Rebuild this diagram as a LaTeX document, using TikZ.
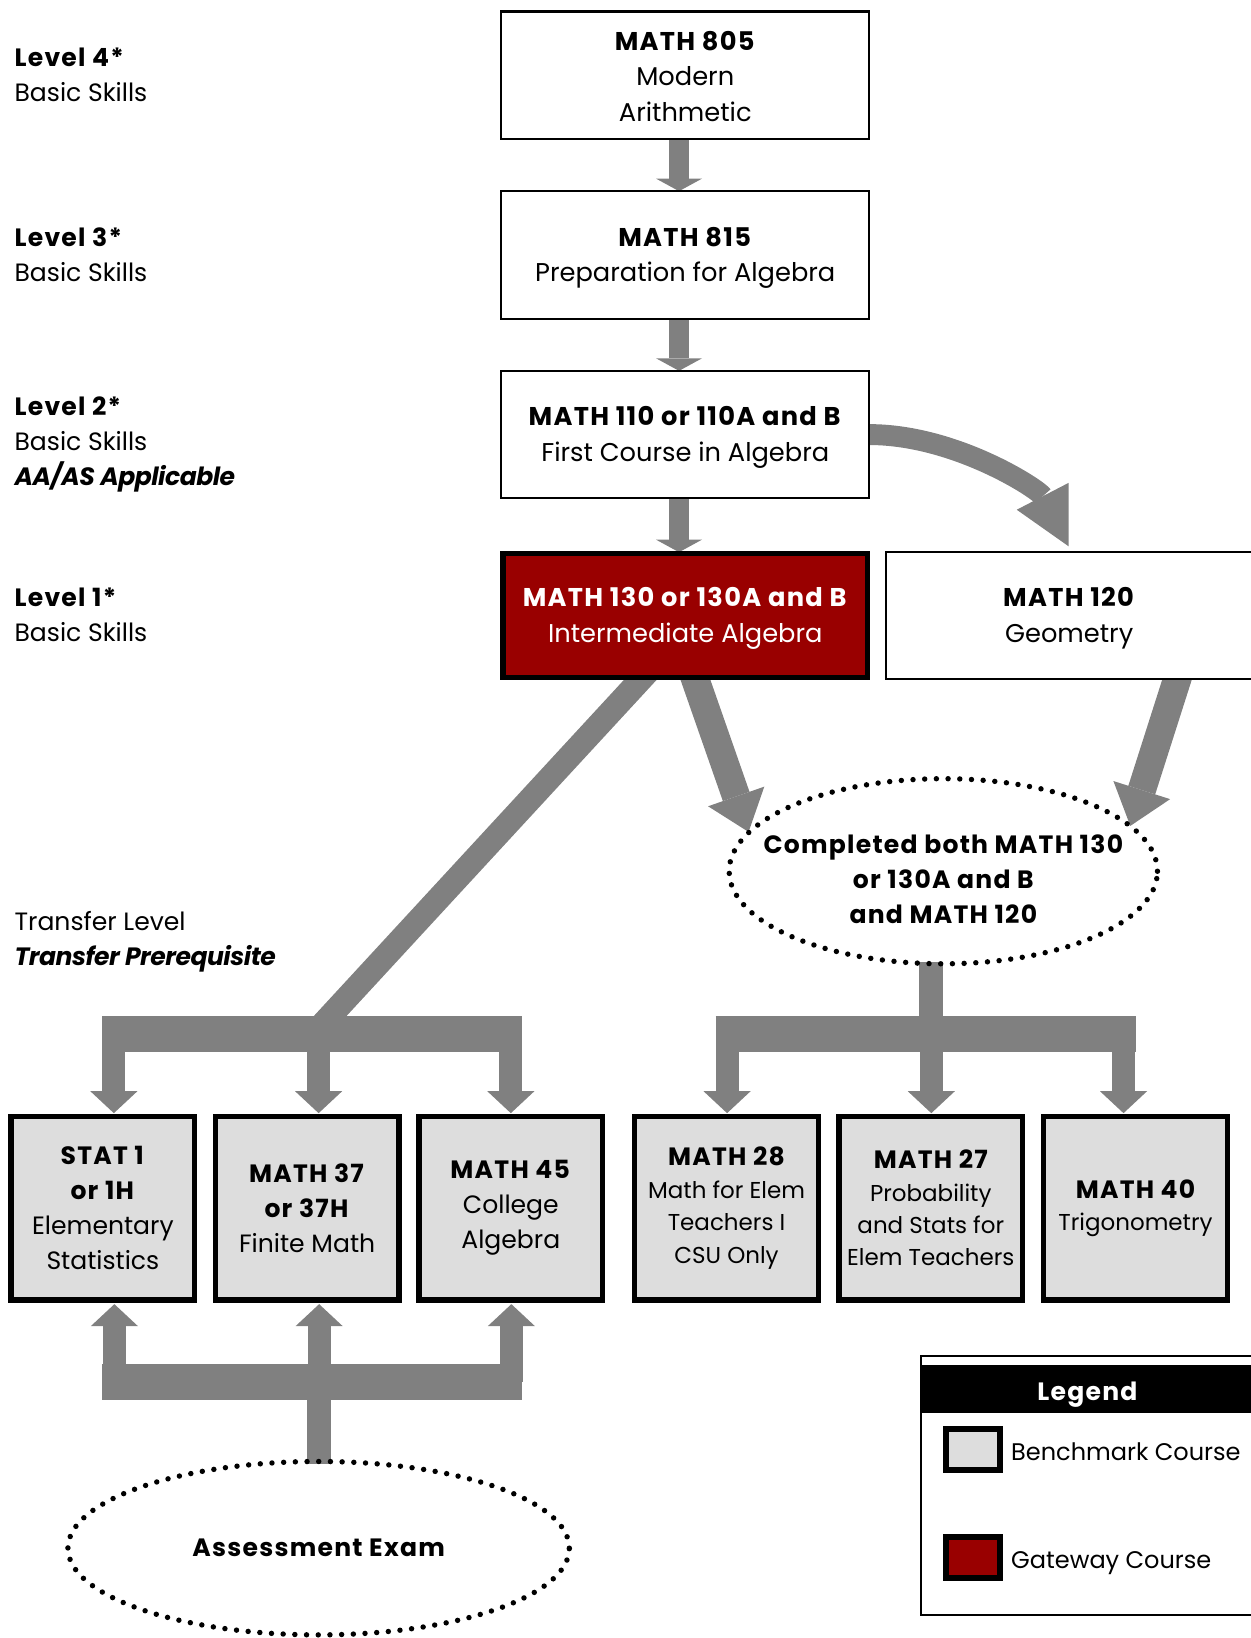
\documentclass[tikz,border=0pt]{standalone}
\usepackage{fontspec}
\setmainfont{Poppins}[BoldFeatures={LetterSpace=5},BoldItalicFeatures={LetterSpace=-2}]
\usetikzlibrary{arrows.meta,shapes.geometric,backgrounds,calc}
\definecolor{agray}{RGB}{128,128,128}
\definecolor{bgray}{RGB}{221,221,221}
\definecolor{gred}{RGB}{153,0,0}
\newcommand\topstrut{\rule{0pt}{12pt}}
\newcommand\lowstrut{\rule{0pt}{10pt}}
\tikzset{
  every node/.style={inner sep=0pt, outer sep=0pt},
  boxfont/.style={font=\fontsize{12.3}{17}\selectfont},
  thinbox/.style={draw=black, line width=1pt, fill=white, minimum width=176pt, minimum height=61pt, align=center, boxfont},
  gatebox/.style={draw=black, line width=2.6pt, fill=gred, text=white, minimum width=174.4pt, minimum height=59.4pt, align=center, boxfont},
  benchbox/.style={draw=black, line width=2.6pt, fill=bgray, minimum width=87.9pt, minimum height=87.9pt, align=center, font=\fontsize{12}{16.75}\selectfont},
  smallbench/.style={benchbox, font=\fontsize{11}{15.5}\selectfont},
  dotring/.style={ellipse, draw=black, line width=2.6pt, dash pattern=on 0pt off 5.6pt, line cap=round},
  lbl/.style={anchor=base west, font=\fontsize{12}{17}\selectfont},
  leglbl/.style={anchor=base west, font=\fontsize{11.5}{17}\selectfont},
  vblk/.style={draw=agray, line width=10pt, -{Triangle[length=6pt, width=22pt, line width=0pt]}},
  dropblk/.style={draw=agray, line width=11pt, -{Triangle[length=10.5pt, width=22.5pt, line width=0pt]}},
  bigblk/.style={draw=agray, line width=13.5pt, -{Triangle[length=18pt, width=28.5pt, line width=0pt]}},
  curveblk/.style={draw=agray, line width=10pt, -{Triangle[length=27pt, width=28pt, line width=0pt]}},
  barline/.style={draw=agray, line width=17pt},
  stemline/.style={draw=agray, line width=11.5pt},
  swatch/.style={draw=black, line width=2.85pt, minimum width=25.5pt, minimum height=20pt},
}
\begin{document}
\begin{tikzpicture}[x=0.5pt,y=-0.5pt]
\useasboundingbox (0,0) rectangle (1197,1568);

% level labels
\node[lbl] (l4a) at (14,63.5) {\textbf{Level 4*}};
\node[lbl] (l4b) at (14,97.5) {Basic Skills};
\node[lbl] (l3a) at (14,235.5) {\textbf{Level 3*}};
\node[lbl] (l3b) at (14,269.5) {Basic Skills};
\node[lbl] (l2a) at (14,397.5) {\textbf{Level 2*}};
\node[lbl] (l2b) at (14,431.5) {Basic Skills};
\node[lbl] (l2c) at (14,464.5) {\textbf{\textit{AA/AS Applicable}}};
\node[lbl] (l1a) at (14,580.5) {\textbf{Level 1*}};
\node[lbl] (l1b) at (14,614.5) {Basic Skills};
\node[lbl] (tla) at (14,890.5) {Transfer Level};
\node[lbl] (tlb) at (14,924.5) {\textbf{\textit{Transfer Prerequisite}}};

% course boxes
\node[thinbox] (m805) at (656,72) {\lowstrut\textbf{MATH 805}\\Modern\\Arithmetic};
\node[thinbox] (m815) at (656,244) {\topstrut\textbf{MATH 815}\\Preparation for Algebra};
\node[thinbox] (m110) at (656,416) {\topstrut\textbf{MATH 110 or 110A and B}\\First Course in Algebra};
\node[gatebox] (m130) at (656,589) {\topstrut\textbf{MATH 130 or 130A and B}\\Intermediate Algebra};
\node[thinbox, minimum width=175.5pt] (m120) at (1023.5,589) {\topstrut\textbf{MATH 120}\\Geometry};

\node[dotring, minimum width=205pt, minimum height=88.6pt] (both) at (903,834) {};
\node[font=\bfseries\fontsize{12}{16.75}\selectfont, align=center] (bothtxt) at (903,842) {Completed both MATH 130\\or 130A and B\\and MATH 120};

\node[benchbox] (stat1) at (98.5,1156.5) {\textbf{STAT 1}\\\textbf{or 1H}\\Elementary\\Statistics};
\node[benchbox] (m37) at (294,1156.5) {\textbf{MATH 37}\\\textbf{or 37H}\\Finite Math};
\node[benchbox] (m45) at (489,1156.5) {\textbf{MATH 45}\\College\\Algebra};
\node[smallbench] (m28) at (695.5,1156.5) {{\bfseries\fontsize{12}{15.5}\selectfont MATH 28}\\Math for Elem\\Teachers I\\CSU Only};
\node[smallbench] (m27) at (891,1156.5) {{\bfseries\fontsize{12}{15.5}\selectfont MATH 27}\\Probability\\and Stats for\\Elem Teachers};
\node[smallbench] (m40) at (1087,1156.5) {{\bfseries\fontsize{12}{15.5}\selectfont MATH 40}\\Trigonometry};

\node[dotring, minimum width=240pt, minimum height=83pt, font=\bfseries\fontsize{12}{17}\selectfont] (assess) at (305,1482) {Assessment Exam};

% legend
\node[draw=black, line width=1pt, fill=white, minimum width=159.5pt, minimum height=124pt] (legbox) at (1041,1422) {};
\node[fill=black, minimum width=159.5pt, minimum height=23pt] (leghead) at (1041,1330) {};
\node[anchor=base, text=white, font=\bfseries\fontsize{12}{17}\selectfont] (legtitle) at (1041,1340.5) {Legend};
\node[swatch, fill=bgray] (sw1) at (931.5,1387.5) {};
\node[swatch, fill=gred] (sw2) at (931.5,1491) {};
\node[leglbl] (sw1t) at (968,1398.5) {Benchmark Course};
\node[leglbl] (sw2t) at (968,1501.5) {Gateway Course};

% junction coordinates
\coordinate (lj) at (300,990);
\coordinate (lbarL) at (98,990);
\coordinate (lbarR) at (500,990);
\coordinate (rj) at (891.5,990);
\coordinate (rbarL) at (685,990);
\coordinate (rbarR) at (1087,990);
\coordinate (bj) at (305.5,1323);
\coordinate (bbarL) at (98,1323);
\coordinate (bbarR) at (500,1323);

\begin{pgfonlayer}{background}
\draw[vblk] ($(m805.south)+(-6,0)$) -- ($(m815.north)+(-6,0)$);
\draw[vblk] ($(m815.south)+(-6,0)$) -- ($(m110.north)+(-6,0)$);
\draw[vblk] ($(m110.south)+(-6,0)$) -- ($(m130.north)+(-6,-1)$);
\draw[curveblk] (m110.east) .. controls (915,416) and (995,469) .. ($(m120.north)+(-0.5,-5)$);
\draw[bigblk] ($(m130.south)+(3.3,-16)$) -- (716.6,796.4);
\draw[bigblk] ($(m120.south)+(108.5,-16)$) -- (1082,790.6);
% left bracket
\draw[draw=agray, line width=11.5pt] ($(m130.south)+(-26.1,-16)$) -- (lj);
\draw[barline] (lbarL) -- (lbarR);
\draw[dropblk] (109,990) -- ($(stat1.north)+(10.5,-3)$);
\draw[dropblk] (305,990) -- ($(m37.north)+(11,-3)$);
\draw[dropblk] (489,990) -- ($(m45.north)+(0,-3)$);
% right bracket
\draw[stemline] ($(both.south)+(-11.5,-2)$) -- (rj);
\draw[barline] (rbarL) -- (rbarR);
\draw[dropblk] (696,990) -- ($(m28.north)+(0.5,-3)$);
\draw[dropblk] (891.5,990) -- ($(m27.north)+(0.5,-3)$);
\draw[dropblk] (1075.5,990) -- ($(m40.north)+(-11.5,-3)$);
% bottom bracket
\draw[stemline] ($(assess.north)+(0.5,2)$) -- (bj);
\draw[barline] (bbarL) -- (bbarR);
\draw[dropblk] (109.5,1323) -- ($(stat1.south)+(11,4)$);
\draw[dropblk] (305.5,1323) -- ($(m37.south)+(11.5,4)$);
\draw[dropblk] (489.5,1323) -- ($(m45.south)+(0.5,4)$);
\end{pgfonlayer}
\end{tikzpicture}
\end{document}
